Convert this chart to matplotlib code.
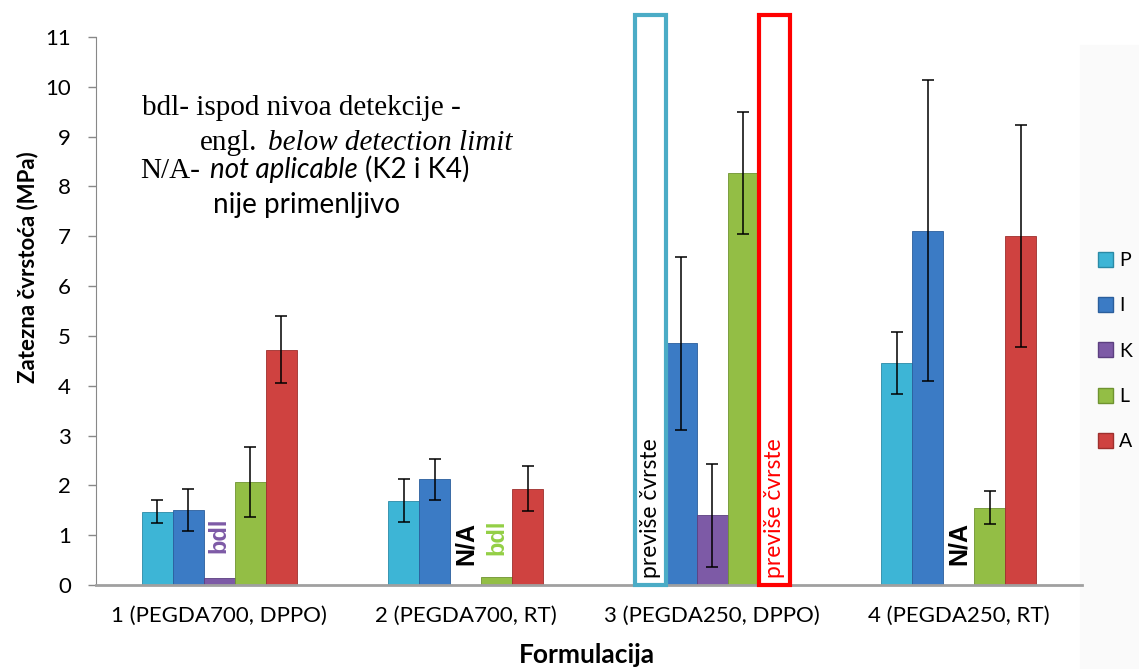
import numpy as np
from matplotlib import pyplot as plt
from matplotlib.patches import Patch, Rectangle

plt.rcParams['font.family'] = ['Lato', 'DejaVu Sans']

# podaci očitani sa slike
groups = ['1 (PEGDA700, DPPO)', '2 (PEGDA700, RT)',
          '3 (PEGDA250, DPPO)', '4 (PEGDA250, RT)']
series = ['P', 'I', 'K', 'L', 'A']
p_vals = [1.47, 1.69, 0.0, 4.45]
p_err = [0.23, 0.43, 0.0, 0.62]
i_vals = [1.50, 2.12, 4.85, 7.11]
i_err = [0.42, 0.41, 1.73, 3.02]
k_vals = [0.15, 0.0, 1.40, 0.0]
k_err = [0.0, 0.0, 1.03, 0.0]
l_vals = [2.07, 0.17, 8.27, 1.55]
l_err = [0.70, 0.0, 1.23, 0.33]
a_vals = [4.72, 1.93, 0.0, 7.01]
a_err = [0.67, 0.45, 0.0, 2.23]
colors = ['#3db5d6', '#3b7bc5', '#7d5aa6', '#93be45', '#cf4240']
edges = ['#2a8aa6', '#2b5e9c', '#5c3f80', '#6f9330', '#9e2f2d']

W, H = 1139, 669


def px(x, y):
    return x / W, 1 - y / H


fig = plt.figure(figsize=(W / 100, H / 100), dpi=100)
fig.patches.append(Rectangle(px(1080, 669), 59 / W, 624 / H,
                             transform=fig.transFigure, color='#fafafa',
                             zorder=-1))
ax = fig.add_axes([96 / W, 1 - 585 / H, (1082 - 96) / W, (585 - 37) / H])
ax.patch.set_alpha(0)

x = np.arange(len(groups))
w = 0.126
data = [(p_vals, p_err), (i_vals, i_err), (k_vals, k_err),
        (l_vals, l_err), (a_vals, a_err)]
for k, (vals, errs) in enumerate(data):
    pos = x + (k - 2) * w
    vals = np.array(vals)
    errs = np.array(errs)
    ax.bar(pos, vals, w, color=colors[k], edgecolor=edges[k], linewidth=0.6,
           label=series[k], zorder=2)
    m = errs > 0
    ax.errorbar(pos[m], vals[m], yerr=errs[m], fmt='none', ecolor='black',
                elinewidth=1.1, capsize=4.5, capthick=1.1, zorder=3)

ax.set_xlim(-0.5, 3.5)
ax.set_ylim(0, 11)
ax.set_yticks(range(0, 12))
ax.set_xticks(x, groups)
ax.tick_params(axis='x', length=0, pad=15, labelsize=16)
ax.tick_params(axis='y', length=6, width=1, color='#888888', pad=12,
               labelsize=16)
for s in ['top', 'right']:
    ax.spines[s].set_visible(False)
ax.spines['left'].set_color('#888888')
ax.spines['bottom'].set_color('#a0a0a0')
ax.spines['bottom'].set_linewidth(2)

# oznake bdl i N/A
ax.text(0, 0.65, 'bdl', rotation=90, ha='center', va='bottom',
        color='#7d5aa6', fontweight='bold', fontsize=17,
        family='Liberation Sans')
ax.text(1 + w, 0.6, 'bdl', rotation=90, ha='center', va='bottom',
        color='#93cf45', fontweight='bold', fontsize=17,
        family='Liberation Sans')
for g in [1, 3]:
    ax.text(g, 0.4, 'N/A', rotation=90, ha='center', va='bottom',
            color='black', fontweight='bold', fontsize=18,
            family='Liberation Sans')

# okviri "previše čvrste"
for off, c, tc in [(-2, '#4bacc6', 'black'), (2, '#ff0000', '#ff0000')]:
    cx = 2 + off * w
    ax.add_patch(Rectangle((cx - w / 2, 0), w, 11.45, fill=False,
                           edgecolor=c, linewidth=3, clip_on=False, zorder=4))
    ax.text(cx, 0.15, 'previše čvrste', rotation=90, ha='center',
            va='bottom', color=tc, fontsize=16.5, zorder=5)

# napomena
fig.text(*px(142, 115), 'bdl- ispod nivoa detekcije -',
         family='Liberation Serif', fontsize=21)
fig.text(*px(200, 150), 'engl.', family='Liberation Serif', fontsize=21)
fig.text(*px(268, 150), 'below detection limit', family='Liberation Serif',
         style='italic', fontsize=21)
fig.text(*px(140, 178), 'N/A-', family='Liberation Serif', fontsize=21)
fig.text(*px(210, 178), 'not aplicable', style='italic', fontsize=20)
fig.text(*px(365, 178), '(K2 i K4)', fontsize=20)
fig.text(*px(213, 213), 'nije primenljivo', fontsize=20)

fig.text(*px(28, 267), 'Zatezna čvrstoća (MPa)', rotation=90, ha='center',
         va='center', fontweight='bold', fontsize=16)
fig.text(*px(587, 663), 'Formulacija', ha='center', va='baseline',
         fontweight='bold', fontsize=19)

handles = [Patch(facecolor=c, edgecolor=e) for c, e in zip(colors, edges)]
fig.legend(handles, series, loc='center left', bbox_to_anchor=px(1080, 351),
           frameon=False, fontsize=14, handlelength=0.8, handleheight=0.8,
           handletextpad=0.3, labelspacing=1.45)

fig.savefig('out.png', dpi=100)
